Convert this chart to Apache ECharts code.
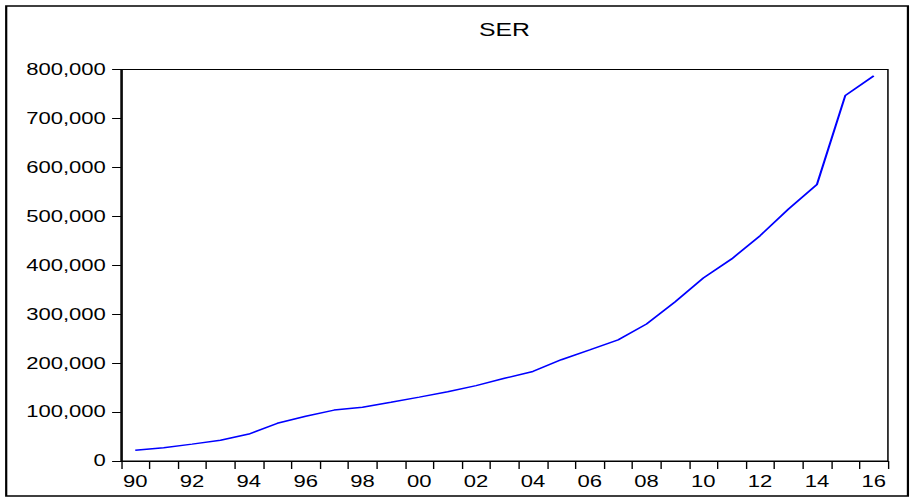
<!DOCTYPE html>
<html>
<head>
<meta charset="utf-8">
<title>SER</title>
<script src="https://cdn.jsdelivr.net/npm/echarts@6/dist/echarts.min.js"></script>
<style>
  html, body { margin: 0; padding: 0; background: #ffffff; overflow: hidden; }
  /* The graph is laid out narrower and widened horizontally, giving the wide lettering of the export */
  #chart { width: 660px; height: 498px; transform: scaleX(1.378788); transform-origin: 0 0; }
</style>
</head>
<body>
<div id="chart"></div>
<script>
// Years 1990-2016 shown as two-digit labels
const years = ['90','91','92','93','94','95','96','97','98','99',
               '00','01','02','03','04','05','06','07','08','09',
               '10','11','12','13','14','15','16'];

// SER, annual values
const ser = [21900, 27200, 34500, 42500, 55000, 77000, 91500, 104000, 110000, 120000,
             130500, 141500, 154000, 169000, 183000, 207000, 227000, 247500, 280000, 325000,
             374000, 413000, 460500, 515000, 565000, 747000, 787000];

// Value axis ticks
const yMin = 0;
const yMax = 800000;
const yStep = 100000;

const textFont = 'Liberation Sans, Arial, sans-serif';

const gridLeft = 87.8;
const gridRight = 16;
const chartWidth = 660;

const chart = echarts.init(document.getElementById('chart'), null, { renderer: 'svg' });

chart.setOption({
  animation: false,
  backgroundColor: '#ffffff',
  grid: {
    left: gridLeft,
    right: gridRight,
    top: 69.5,
    bottom: 37,
    show: true,
    borderColor: '#000000',
    borderWidth: 1.1,
    backgroundColor: 'transparent'
  },
  xAxis: {
    type: 'category',
    data: years,
    boundaryGap: true,
    axisLine: { show: true, lineStyle: { color: '#000000', width: 1.1 } },
    axisTick: { show: true, interval: 0, alignWithLabel: false, length: 8, lineStyle: { color: '#000000', width: 1 } },
    axisLabel: { interval: 1, margin: 12.5, fontFamily: textFont, fontSize: 16, color: '#000000' },
    splitLine: { show: false }
  },
  yAxis: {
    type: 'value',
    min: yMin,
    max: yMax,
    interval: yStep,
    axisLine: { show: true, lineStyle: { color: '#000000', width: 1.2 } },
    axisTick: { show: true, length: 6.5, lineStyle: { color: '#000000', width: 1 } },
    axisLabel: {
      margin: 11,
      fontFamily: textFont,
      fontSize: 16,
      color: '#000000',
      formatter: v => v.toLocaleString('en-US')
    },
    splitLine: { show: false }
  },
  series: [{
    type: 'line',
    data: ser,
    symbol: 'none',
    smooth: false,
    lineStyle: { color: '#0000ff', width: 1.5 }
  }],
  graphic: [
    {
      // title, centred over the plot area
      type: 'text',
      silent: true,
      x: gridLeft + (chartWidth - gridLeft - gridRight) / 2,
      y: 30,
      style: {
        text: 'SER',
        align: 'center',
        verticalAlign: 'middle',
        font: 'normal 18px ' + textFont,
        fill: '#000000'
      }
    },
    {
      // outer frame
      type: 'rect',
      silent: true,
      shape: { x: 4.5, y: 6, width: 654, height: 490 },
      style: { fill: 'none', stroke: '#000000', lineWidth: 1.6 }
    }
  ]
});
</script>
</body>
</html>
